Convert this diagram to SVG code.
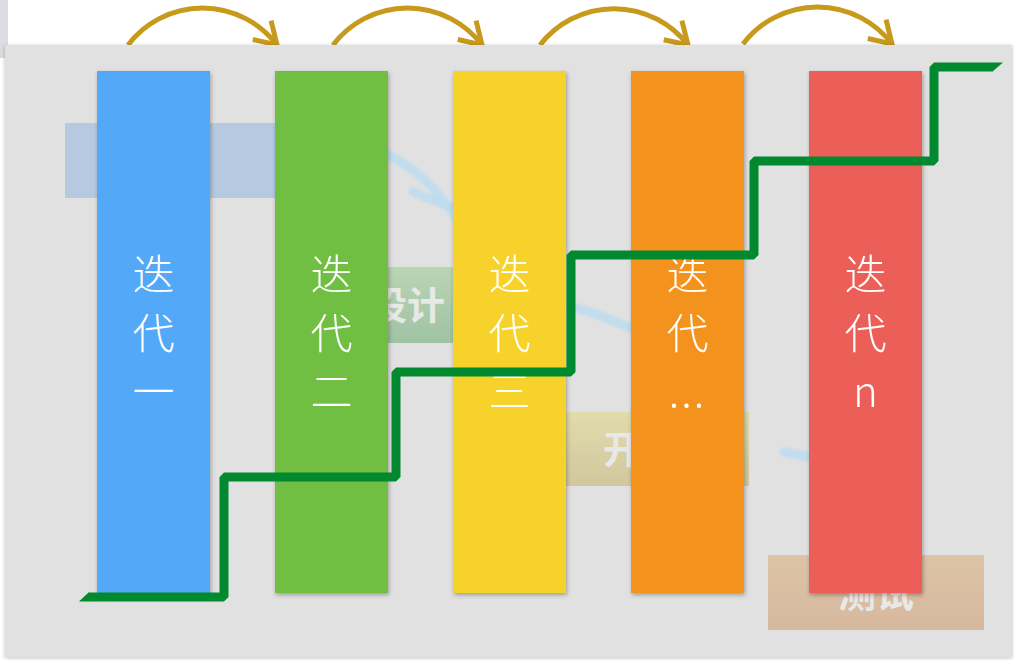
<svg xmlns="http://www.w3.org/2000/svg" width="1014" height="660" viewBox="0 0 1014 660">
  <style>
    .bar-label { font-family: "Noto Sans CJK SC", "Noto Sans", sans-serif; font-size: 42px; font-weight: 300; fill: #ffffff; text-anchor: middle; }
    .bg-label { font-family: "Noto Sans CJK SC", "Noto Sans", sans-serif; font-size: 38px; font-weight: 700; fill: #e8e8e8; text-anchor: middle; }
    .gold { fill: none; stroke: #C79A1C; stroke-width: 5; marker-end: url(#ah); }
    .faint { fill: none; stroke: #bcdcee; stroke-width: 9; stroke-linecap: round; opacity: 0.85; }
  </style>
  <defs>
    <filter id="sh" x="-20%" y="-10%" width="140%" height="120%">
      <feDropShadow dx="1" dy="2" stdDeviation="2" flood-color="#000" flood-opacity="0.3"/>
    </filter>
    <filter id="psh" x="-5%" y="-5%" width="110%" height="110%">
      <feDropShadow dx="0" dy="1" stdDeviation="2" flood-color="#000" flood-opacity="0.25"/>
    </filter>
    <filter id="blur" x="-20%" y="-20%" width="140%" height="140%">
      <feGaussianBlur stdDeviation="1.2"/>
    </filter>
    <marker id="ah" markerUnits="userSpaceOnUse" viewBox="-30 -25 40 50" markerWidth="40" markerHeight="50" refX="0" refY="0" orient="auto">
      <path d="M-23,-10 L0,0 L-19,16" fill="none" stroke="#C79A1C" stroke-width="5"/>
    </marker>
    <linearGradient id="gGreen" x1="0" y1="0" x2="0" y2="1">
      <stop offset="0" stop-color="#bad5b2"/><stop offset="1" stop-color="#9fc3a5"/>
    </linearGradient>
    <linearGradient id="gYellow" x1="0" y1="0" x2="0" y2="1">
      <stop offset="0" stop-color="#e1dcab"/><stop offset="1" stop-color="#d1c79f"/>
    </linearGradient>
    <linearGradient id="gOrange" x1="0" y1="0" x2="0" y2="1">
      <stop offset="0" stop-color="#ddc4a5"/><stop offset="1" stop-color="#d6b89f"/>
    </linearGradient>
  </defs>

  <rect x="0" y="0" width="1014" height="660" fill="#ffffff"/>
  <rect x="0" y="0" width="8" height="58" fill="#dcdde0"/>

  <g id="loop-arrows">
    <path class="gold" d="M128,45 A93.5,93.5 0 0 1 277,45"/>
    <path class="gold" d="M333,45 A93.5,93.5 0 0 1 482,45"/>
    <path class="gold" d="M540,45 A93.5,93.5 0 0 1 688,45"/>
    <path class="gold" d="M743,44 A93.5,93.5 0 0 1 892,44"/>
  </g>

  <rect id="panel" x="5" y="45" width="1007" height="612" fill="#e1e1e1" filter="url(#psh)"/>

  <g id="bg-req">
    <rect x="65" y="123" width="216" height="75" fill="#b5cae1"/>
    <text class="bg-label" x="173" y="175">需求</text>
  </g>
  <g id="bg-design">
    <rect x="299" y="267" width="216" height="76" fill="url(#gGreen)"/>
    <text class="bg-label" x="407" y="319">设计</text>
  </g>
  <g id="bg-dev">
    <rect x="533" y="412" width="216" height="74" fill="url(#gYellow)"/>
    <text class="bg-label" x="641" y="463">开发</text>
  </g>
  <g id="bg-test">
    <rect x="768" y="555" width="216" height="75" fill="url(#gOrange)"/>
    <text class="bg-label" x="876" y="607">测试</text>
  </g>

  <g id="faint-arrows" filter="url(#blur)">
    <path class="faint" d="M340,142 C385,146 425,170 456,218"/>
    <path class="faint" d="M413,192 L458,210"/>
    <path class="faint" d="M555,303 C590,310 612,320 645,334" opacity="0.7"/>
    <path class="faint" d="M784,452 L815,458"/>
  </g>

  <g id="iter1">
    <rect x="97" y="71" width="113" height="522" fill="#52A8F8" filter="url(#sh)"/>
    <text class="bar-label" x="153.5" y="290">迭</text>
    <text class="bar-label" x="153.5" y="349">代</text>
    <text class="bar-label" x="153.5" y="407">一</text>
  </g>
  <g id="iter2">
    <rect x="275" y="71" width="113" height="522" fill="#70BF42" filter="url(#sh)"/>
    <text class="bar-label" x="331.5" y="290">迭</text>
    <text class="bar-label" x="331.5" y="349">代</text>
    <text class="bar-label" x="331.5" y="407">二</text>
  </g>
  <g id="iter3">
    <rect x="453" y="71" width="113" height="522" fill="#F6D22A" filter="url(#sh)"/>
    <text class="bar-label" x="509.5" y="290">迭</text>
    <text class="bar-label" x="509.5" y="349">代</text>
    <text class="bar-label" x="509.5" y="407">三</text>
  </g>
  <g id="iter4">
    <rect x="631" y="71" width="113" height="522" fill="#F3921B" filter="url(#sh)"/>
    <text class="bar-label" x="687.5" y="290">迭</text>
    <text class="bar-label" x="687.5" y="349">代</text>
    <text class="bar-label" x="687.5" y="407" letter-spacing="2">...</text>
  </g>
  <g id="iterN">
    <rect x="809" y="71" width="113" height="522" fill="#EC5E58" filter="url(#sh)"/>
    <text class="bar-label" x="865.5" y="290">迭</text>
    <text class="bar-label" x="865.5" y="349">代</text>
    <text class="bar-label" x="865.5" y="407">n</text>
  </g>

  <g id="connectors">
    <polyline points="88,597 224,597 224,477 396,477 396,372 571,372 571,255 754,255 754,161 934,161 934,67 993,67" fill="none" stroke="#00892E" stroke-width="9" stroke-linejoin="bevel" stroke-linecap="butt"/>
    <polygon points="88.5,592.5 79,601.5 88.5,601.5" fill="#00892E"/>
    <polygon points="992.5,62.5 1003,62.5 992.5,71.5" fill="#00892E"/>
  </g>
</svg>
